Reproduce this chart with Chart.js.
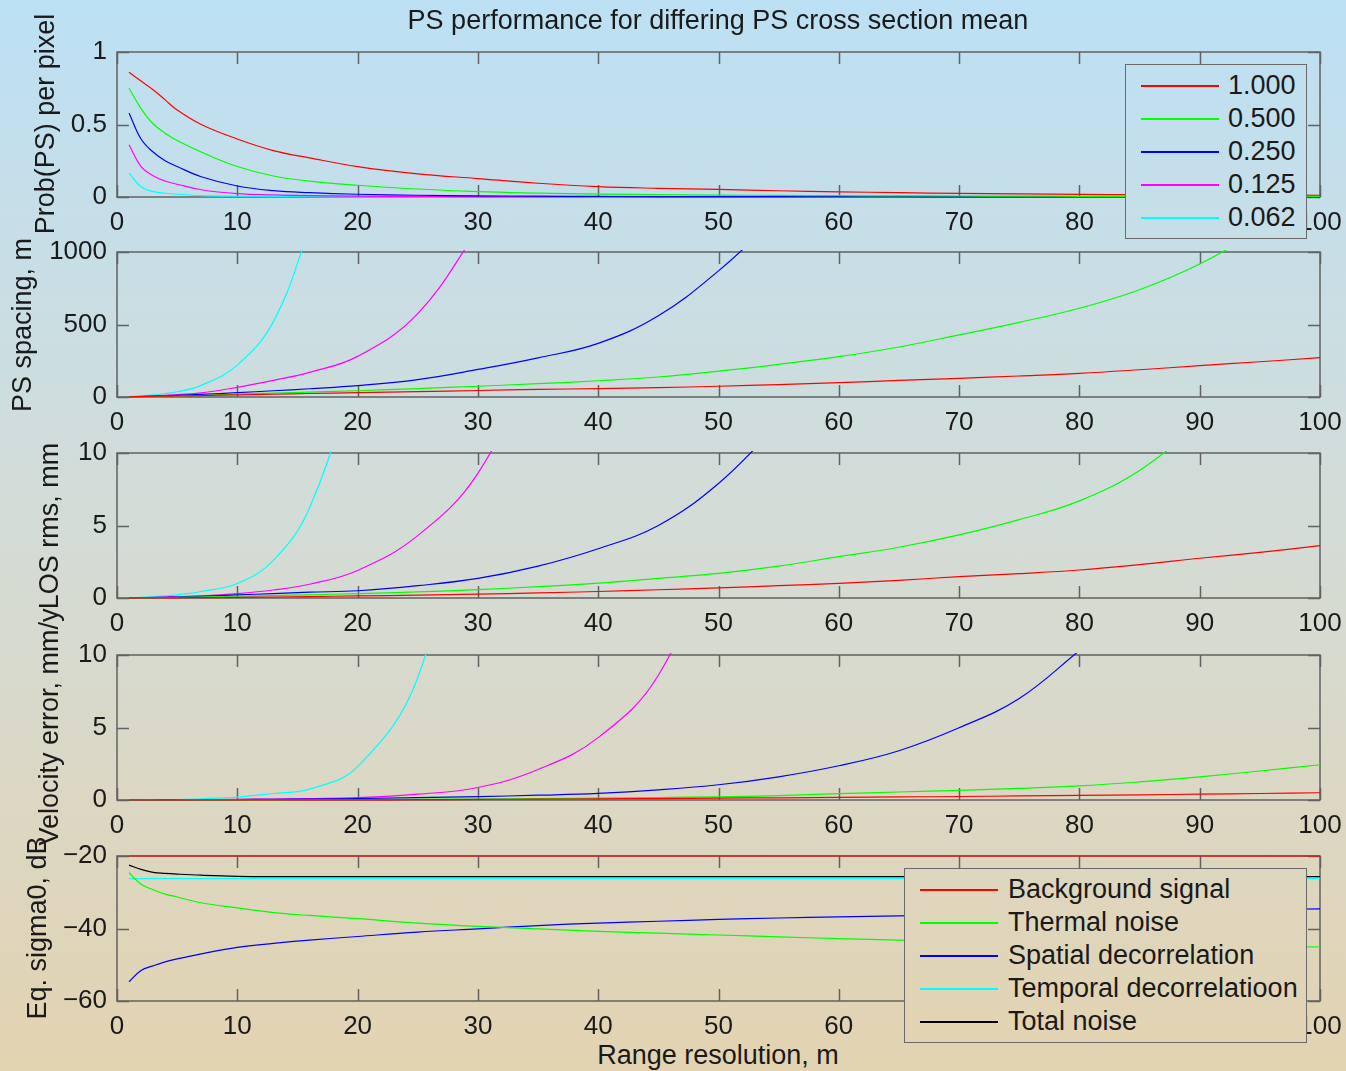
<!DOCTYPE html>
<html>
<head>
<meta charset="utf-8">
<script src="https://cdn.jsdelivr.net/npm/chart.js@4.4.1/dist/chart.umd.min.js"></script>
<style>
html, body { margin: 0; padding: 0; }
body { width: 1346px; height: 1071px; position: relative; overflow: hidden;
  font-family: "Liberation Sans", Arial, sans-serif; color: #1a1a1a; }
#bg { position: absolute; left: 0; top: 0; width: 1346px; height: 1071px;
  background: linear-gradient(to bottom, #bce0f4 0%, #d3dcd7 48%, #e3d3b1 100%); }
canvas { position: absolute; left: 0; }
.txt { position: absolute; font-size: 27px; line-height: 27px; white-space: nowrap; transform: translate(-50%, -50%); }
.ylab { position: absolute; font-size: 27px; line-height: 27px; white-space: nowrap;
  transform: translate(-50%, -50%) rotate(-90deg); }
.legend { position: absolute; border: 1px solid #6a6a6a;
  background: linear-gradient(to bottom, #bce0f4 0%, #d3dcd7 48%, #e3d3b1 100%);
  background-attachment: fixed; }
.legend .row { position: absolute; left: 0; height: 27px; font-size: 27px; line-height: 27px; white-space: nowrap; }
.legend .sw { position: absolute; top: 13px; height: 1.5px; }
</style>
</head>
<body>
<div id="bg"></div>

<script>
// range resolution, m
const xs = [1, 2, 3, 4, 5, 7, 10, 13, 16, 20, 25, 30, 35, 40, 45, 50, 55, 60, 65, 70, 75, 80, 85, 90, 95, 100];

// PS cross section mean
const psLabels = ["1.000", "0.500", "0.250", "0.125", "0.062"];
const noiseLabels = ["Background signal", "Thermal noise", "Spatial decorrelation", "Temporal decorrelatioon", "Total noise"];

// Prob(PS) per pixel
const prob1000 = [0.86, 0.80, 0.74, 0.67, 0.60, 0.50, 0.40, 0.32, 0.27, 0.21, 0.16, 0.127, 0.095, 0.072, 0.06, 0.052, 0.043, 0.036, 0.030, 0.025, 0.021, 0.018, 0.016, 0.014, 0.013, 0.012];
const prob0500 = [0.75, 0.61, 0.505, 0.44, 0.39, 0.31, 0.21, 0.145, 0.11, 0.081, 0.055, 0.037, 0.027, 0.020, 0.016, 0.013, 0.011, 0.009, 0.008, 0.007, 0.006, 0.005, 0.005, 0.004, 0.004, 0.004];
const prob0250 = [0.58, 0.40, 0.31, 0.25, 0.21, 0.14, 0.076, 0.044, 0.030, 0.019, 0.012, 0.008, 0.006, 0.004, 0.003, 0.003, 0.002, 0.002, 0.002, 0.001, 0.001, 0.001, 0.001, 0.001, 0.001, 0.001];
const prob0125 = [0.36, 0.21, 0.146, 0.11, 0.088, 0.05, 0.023, 0.014, 0.009, 0.006, 0.004, 0.003, 0.002, 0.002, 0.001, 0.001, 0, 0, 0, 0, 0, 0, 0, 0, 0, 0];
const prob0062 = [0.165, 0.07, 0.037, 0.026, 0.019, 0.01, 0.005, 0.003, 0.002, 0.001, 0.001, 0.001, 0, 0, 0, 0, 0, 0, 0, 0, 0, 0, 0, 0, 0, 0];

// PS spacing, m
const spac1000 = [1, 3, 4, 6, 7, 10, 15, 19, 24, 30, 37, 45, 52, 58, 65, 74, 86, 99, 114, 129, 145, 163, 188, 216, 243, 271];
const spac0500 = [0.5, 1.5, 2.5, 4, 5, 9, 20, 27, 34, 43, 58, 74, 92, 112, 138, 178, 225, 278, 345, 428, 515, 612, 740, 917, 1150, null];
const spac0250 = [1, 3, 5, 8, 11, 18, 30, 43, 57, 78, 120, 190, 270, 370, 560, 870, 1250, null, null, null, null, null, null, null, null, null];
const spac0125 = [2, 5, 8, 12, 17, 28, 67, 115, 170, 280, 575, 1150, null, null, null, null, null, null, null, null, null, null, null, null, null, null];
const spac0062 = [3, 8, 15, 24, 36, 80, 220, 520, 1150, null, null, null, null, null, null, null, null, null, null, null, null, null, null, null, null, null];

// LOS rms, mm
const los1000 = [0, 0.005, 0.01, 0.01, 0.015, 0.025, 0.04, 0.07, 0.1, 0.14, 0.2, 0.27, 0.35, 0.45, 0.57, 0.7, 0.85, 1.01, 1.22, 1.47, 1.68, 1.93, 2.3, 2.74, 3.15, 3.61];
const los0500 = [0, 0.01, 0.02, 0.03, 0.04, 0.07, 0.12, 0.17, 0.22, 0.3, 0.42, 0.58, 0.78, 1.02, 1.35, 1.7, 2.2, 2.85, 3.5, 4.35, 5.4, 6.7, 8.8, 12, null, null];
const los0250 = [0.01, 0.02, 0.03, 0.05, 0.07, 0.12, 0.22, 0.3, 0.4, 0.5, 0.85, 1.35, 2.2, 3.4, 5.0, 7.9, 12, null, null, null, null, null, null, null, null, null];
const los0125 = [0.01, 0.02, 0.04, 0.06, 0.09, 0.15, 0.3, 0.55, 0.95, 1.9, 4.3, 8.6, 17, null, null, null, null, null, null, null, null, null, null, null, null, null];
const los0062 = [0.02, 0.05, 0.1, 0.15, 0.22, 0.45, 1.0, 2.6, 6.2, 16, null, null, null, null, null, null, null, null, null, null, null, null, null, null, null, null];

// Velocity error, mm/y
const vel1000 = [0, 0, 0, 0, 0, 0, 0, 0.005, 0.005, 0.01, 0.02, 0.04, 0.06, 0.08, 0.1, 0.13, 0.15, 0.18, 0.21, 0.24, 0.28, 0.32, 0.36, 0.4, 0.45, 0.5];
const vel0500 = [0, 0, 0, 0, 0, 0.005, 0.01, 0.015, 0.02, 0.03, 0.05, 0.07, 0.1, 0.13, 0.17, 0.22, 0.3, 0.44, 0.55, 0.67, 0.8, 0.97, 1.25, 1.6, 2.0, 2.43];
const vel0250 = [0, 0, 0, 0.01, 0.01, 0.02, 0.03, 0.05, 0.07, 0.1, 0.16, 0.23, 0.33, 0.46, 0.7, 1.05, 1.6, 2.36, 3.4, 4.98, 7.0, 10.3, null, null, null, null];
const vel0125 = [0, 0, 0, 0.01, 0.01, 0.02, 0.04, 0.07, 0.1, 0.16, 0.4, 0.86, 2.1, 4.3, 8.6, 18, null, null, null, null, null, null, null, null, null, null];
const vel0062 = [0, 0, 0.01, 0.02, 0.03, 0.08, 0.2, 0.45, 0.75, 2.3, 8.45, 25, null, null, null, null, null, null, null, null, null, null, null, null, null, null];

// Eq. sigma0, dB
const sigBackground = [-20, -20, -20, -20, -20, -20, -20, -20, -20, -20, -20, -20, -20, -20, -20, -20, -20, -20, -20, -20, -20, -20, -20, -20, -20, -20];
const sigThermal = [-24.6, -27.8, -29.3, -30.5, -31.3, -32.9, -34.3, -35.6, -36.4, -37.3, -38.5, -39.4, -40.1, -40.8, -41.3, -41.8, -42.3, -42.8, -43.2, -43.6, -43.9, -44.2, -44.5, -44.7, -44.9, -45.1];
const sigSpatial = [-54.7, -51.6, -50.3, -49.2, -48.4, -47, -45.2, -44.1, -43.2, -42.2, -41, -40.1, -39.2, -38.5, -38, -37.5, -37.1, -36.8, -36.5, -36.2, -35.9, -35.6, -35.3, -35.1, -34.8, -34.6];
const sigTemporal = [-26.2, -26.2, -26.2, -26.2, -26.2, -26.2, -26.2, -26.2, -26.2, -26.2, -26.2, -26.2, -26.2, -26.2, -26.2, -26.2, -26.2, -26.2, -26.2, -26.2, -26.2, -26.2, -26.2, -26.2, -26.2, -26.2];
const sigTotal = [-22.5, -23.7, -24.5, -24.8, -25, -25.3, -25.6, -25.7, -25.7, -25.7, -25.7, -25.7, -25.7, -25.7, -25.7, -25.7, -25.7, -25.7, -25.7, -25.7, -25.7, -25.7, -25.7, -25.7, -25.7, -25.7];

const psColors = ["#ff0000", "#00ff00", "#0000ff", "#ff00ff", "#00ffff"];
const noiseColors = ["#ff0000", "#00ff00", "#0000ff", "#00ffff", "#000000"];

const panels = [
  { top: 52, min: 0, max: 1, step: 0.5, series: [prob1000, prob0500, prob0250, prob0125, prob0062], colors: psColors },
  { top: 252, min: 0, max: 1000, step: 500, series: [spac1000, spac0500, spac0250, spac0125, spac0062], colors: psColors },
  { top: 453, min: 0, max: 10, step: 5, series: [los1000, los0500, los0250, los0125, los0062], colors: psColors },
  { top: 655, min: 0, max: 10, step: 5, series: [vel1000, vel0500, vel0250, vel0125, vel0062], colors: psColors },
  { top: 856, min: -60, max: -20, step: 20, series: [sigBackground, sigThermal, sigSpatial, sigTemporal, sigTotal], colors: noiseColors }
];

const PLOT_H = 145;
const PAD_TOP = 25;
const X_AXIS_H = 35;

// matlab style box with inward ticks on all four sides
const boxPlugin = {
  id: 'box',
  beforeDatasetsDraw(chart) {
    const { ctx, chartArea: a, scales } = chart;
    const x = scales.x, y = scales.y;
    const tl = 12;
    ctx.save();
    ctx.strokeStyle = '#626262';
    ctx.lineWidth = 1.5;
    ctx.strokeRect(a.left, a.top, a.right - a.left, a.bottom - a.top);
    ctx.beginPath();
    x.ticks.forEach(t => {
      const px = Math.round(x.getPixelForValue(t.value)) + 0.5;
      ctx.moveTo(px, a.bottom); ctx.lineTo(px, a.bottom - tl);
      ctx.moveTo(px, a.top); ctx.lineTo(px, a.top + tl);
    });
    y.ticks.forEach(t => {
      const py = Math.round(y.getPixelForValue(t.value)) + 0.5;
      ctx.moveTo(a.left, py); ctx.lineTo(a.left + tl, py);
      ctx.moveTo(a.right, py); ctx.lineTo(a.right - tl, py);
    });
    ctx.stroke();
    ctx.restore();
  }
};

const tickFont = { family: '"Liberation Sans", Arial, sans-serif', size: 26 };

panels.forEach((p, i) => {
  const canvas = document.createElement('canvas');
  canvas.width = 1346;
  canvas.height = PAD_TOP + PLOT_H + X_AXIS_H;
  canvas.style.top = (p.top - PAD_TOP) + 'px';
  document.body.appendChild(canvas);

  new Chart(canvas, {
    type: 'line',
    data: {
      datasets: p.series.map((s, k) => ({
        data: xs.map((x, j) => ({ x: x, y: s[j] })),
        borderColor: p.colors[k],
        borderWidth: 1.2,
        pointRadius: 0,
        tension: 0.4,
        spanGaps: false,
        clip: { left: 0, right: 0, top: 2, bottom: 1 }
      }))
    },
    options: {
      responsive: false,
      animation: false,
      devicePixelRatio: 1,
      events: [],
      layout: { padding: { top: PAD_TOP, right: 26, left: 0, bottom: 0 } },
      plugins: { legend: { display: false }, title: { display: false }, tooltip: { enabled: false } },
      scales: {
        x: {
          type: 'linear', min: 0, max: 100,
          grid: { display: false, drawTicks: false },
          border: { display: false },
          ticks: { stepSize: 10, autoSkip: false, maxRotation: 0, padding: 10, color: '#1a1a1a', font: tickFont },
          afterFit: s => { s.height = X_AXIS_H; s.paddingLeft = 0; s.paddingRight = 0; }
        },
        y: {
          type: 'linear', min: p.min, max: p.max,
          grid: { display: false, drawTicks: false },
          border: { display: false },
          ticks: {
            stepSize: p.step, padding: 10, color: '#1a1a1a', font: tickFont,
            callback: v => v < 0 ? '\u2212' + Math.abs(v) : String(v)
          },
          afterFit: s => { s.width = 117; s.paddingTop = 0; s.paddingBottom = 0; }
        }
      }
    },
    plugins: [boxPlugin]
  });
});

function addText(cls, text, left, top) {
  const d = document.createElement('div');
  d.className = cls;
  d.textContent = text;
  d.style.left = left + 'px';
  d.style.top = top + 'px';
  document.body.appendChild(d);
}

addText('txt', 'PS performance for differing PS cross section mean', 718, 20);
addText('txt', 'Range resolution, m', 718, 1055);
addText('ylab', 'Prob(PS) per pixel', 45, 124);
addText('ylab', 'PS spacing, m', 22, 325);
addText('ylab', 'LOS rms, mm', 49, 526);
addText('ylab', 'Velocity error, mm/y', 49, 727);
addText('ylab', 'Eq. sigma0, dB', 37, 928);

function addLegend(labels, colors, left, top, width, lineX, textX) {
  const box = document.createElement('div');
  box.className = 'legend';
  box.style.left = left + 'px';
  box.style.top = top + 'px';
  box.style.width = width + 'px';
  box.style.height = '173px';
  labels.forEach((lab, k) => {
    const row = document.createElement('div');
    row.className = 'row';
    row.style.top = (7 + k * 33) + 'px';
    row.style.width = width + 'px';
    const sw = document.createElement('div');
    sw.className = 'sw';
    sw.style.left = lineX + 'px';
    sw.style.width = '78px';
    sw.style.background = colors[k];
    const t = document.createElement('span');
    t.textContent = lab;
    t.style.position = 'absolute';
    t.style.left = textX + 'px';
    row.appendChild(sw);
    row.appendChild(t);
    box.appendChild(row);
  });
  document.body.appendChild(box);
}

addLegend(psLabels, psColors, 1125, 64, 180, 15, 102);
addLegend(noiseLabels, noiseColors, 904, 868, 401, 15, 103);
</script>
</body>
</html>
